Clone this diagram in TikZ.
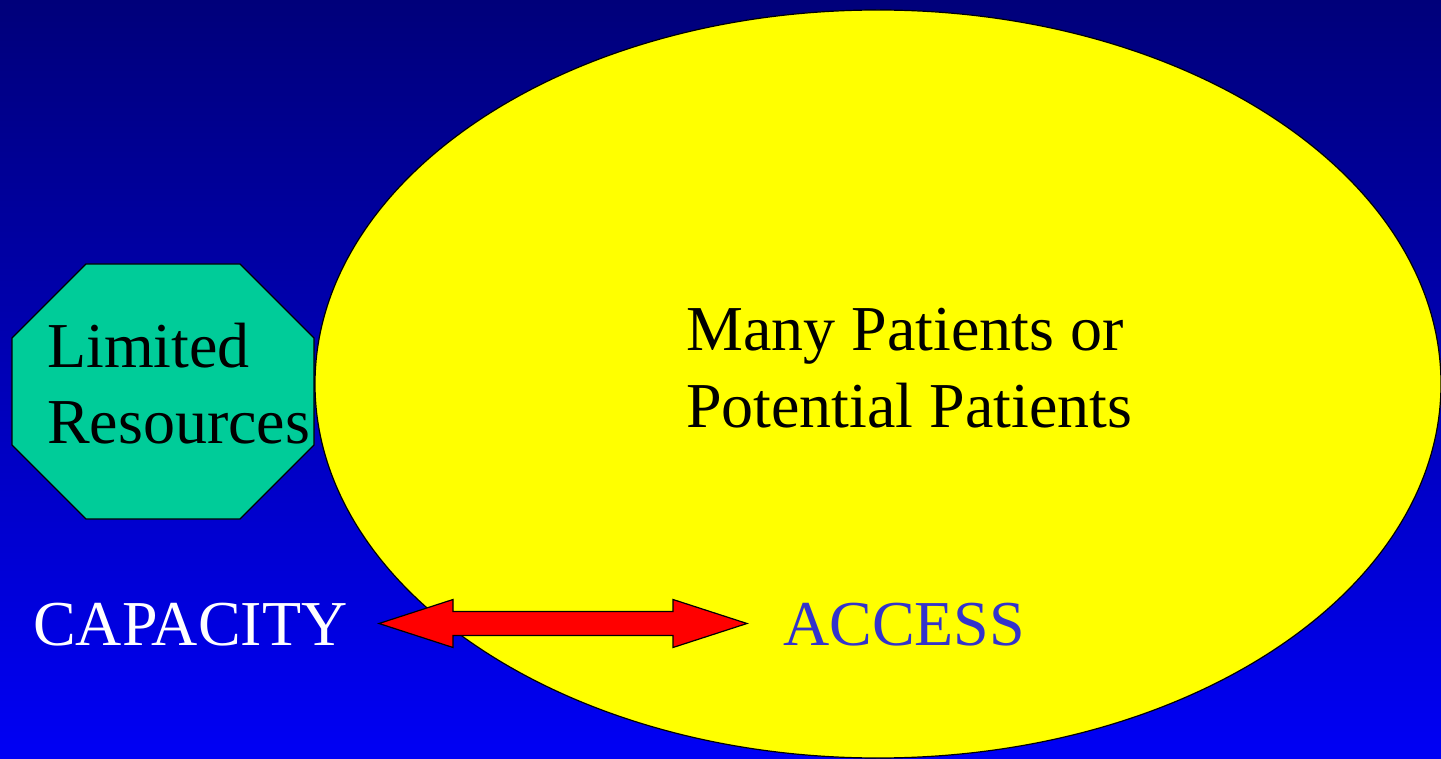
\documentclass[tikz,border=0pt]{standalone}
\usepackage{fontspec}
\setmainfont{Liberation Serif}
\definecolor{navytop}{RGB}{0,0,122}
\definecolor{bluebot}{RGB}{0,0,245}
\definecolor{octa}{RGB}{0,204,153}
\definecolor{ovalyellow}{RGB}{255,255,0}
\definecolor{arrowred}{RGB}{255,0,0}
\definecolor{accessblue}{RGB}{51,51,204}
\begin{document}
\begin{tikzpicture}[x=1pt,y=-1pt,
  lbl/.style={anchor=base west,inner sep=0pt,font=\fontsize{64}{76}\selectfont},
  outl/.style={draw=black,line width=1.2pt,line join=miter}]
\useasboundingbox (0,0) rectangle (1441,759);
\shade[top color=navytop,bottom color=bluebot] (0,0) rectangle (1441,759);
% octagon
\filldraw[outl,fill=octa] (86,264) -- (240,264) -- (314,338) -- (314,445) -- (240,519) -- (86,519) -- (12,445) -- (12,338) -- cycle;
% ellipse
\filldraw[outl,fill=ovalyellow] (878,384) ellipse [x radius=563, y radius=374];
% texts
\node[lbl] (lim1) at (47,367) {Limited};
\node[lbl] (lim2) at (47,443) {Resources};
\node[lbl] (many1) at (686,351) {Many Patients or};
\node[lbl] (many2) at (686,427) {Potential Patients};
\node[lbl,text=white] (cap) at (33,645) {CAPACITY};
\node[lbl,text=accessblue] (acc) at (783,645.5) {ACCESS};
% double block arrow
\coordinate (tl) at (379,623.5);
\coordinate (tr) at (747,623.5);
\filldraw[outl,fill=arrowred] (tl) -- (453,599.5) -- (453,611.5) -- (673,611.5) -- (673,599.5) -- (tr) -- (673,647.5) -- (673,635.5) -- (453,635.5) -- (453,647.5) -- cycle;
\end{tikzpicture}
\end{document}
